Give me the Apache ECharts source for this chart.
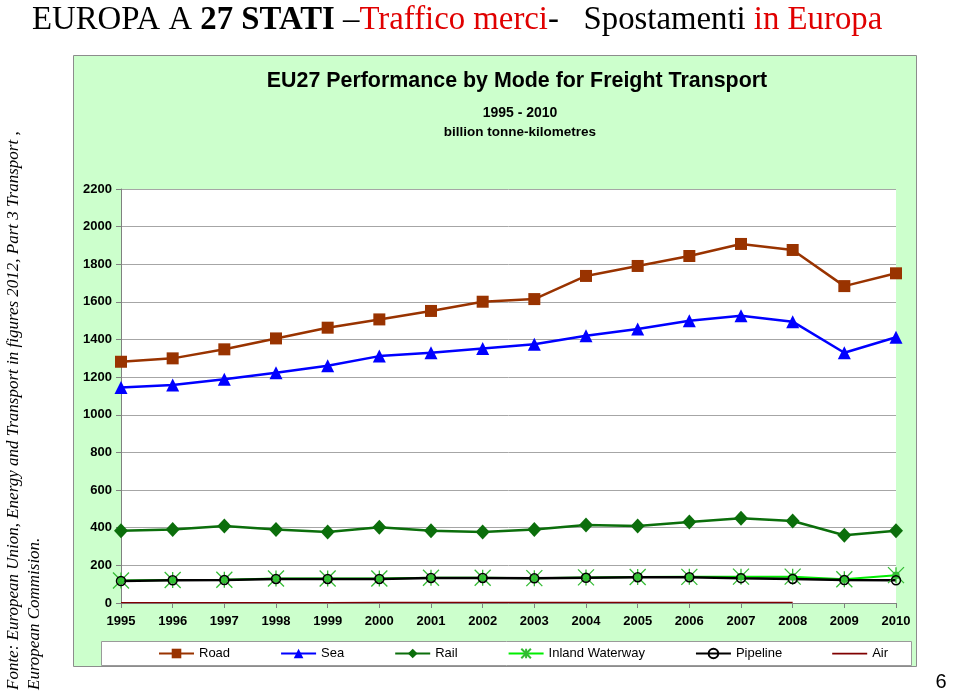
<!DOCTYPE html>
<html>
<head>
<meta charset="utf-8">
<script src="https://cdn.jsdelivr.net/npm/echarts@6/dist/echarts.min.js"></script>
<style>html,body{margin:0;padding:0;background:#fff;}#c{width:960px;height:697px;}</style>
</head>
<body>
<div id="c"></div>
<script>
const years = ['1995','1996','1997','1998','1999','2000','2001','2002','2003','2004','2005','2006','2007','2008','2009','2010'];
const road = [1282,1300,1348,1406,1463,1507,1552,1601,1615,1738,1791,1844,1908,1876,1684,1752];
const sea = [1145,1158,1189,1224,1261,1312,1330,1353,1375,1420,1456,1500,1527,1495,1330,1412];
const rail = [384,391,409,391,377,402,384,377,391,414,409,430,450,436,360,384];
const waterway = [120,122,124,130,130,130,134,134,132,136,138,139,140,140,126,148];
const pipeline = [117,121,122,128,128,128,133,133,131,134,137,137,132,128,122,121];
const air = [2,2,2,2,2,3,3,3,3,3,3,3,3,3,null,null];
const yTicks = {min:0, max:2200, interval:200};

const chart = echarts.init(document.getElementById('c'), null, {renderer:'canvas'});
const lbl = {fontFamily:'Arial, Liberation Sans', fontSize:13, fontWeight:'bold', color:'#000'};
chart.setOption({
  backgroundColor:'#fff',
  animation:false,
  title:[
    {text:'{n|EUROPA A }{b|27 STATI}{n| –}{r|Traffico merci}{n|-   Spostamenti }{r|in Europa}',
     left:27, top:-1,
     textStyle:{fontWeight:'normal', rich:{
       n:{fontFamily:'Liberation Serif', fontSize:32.8, fontWeight:'normal', color:'#000'},
       b:{fontFamily:'Liberation Serif', fontSize:32.8, fontWeight:'bold', color:'#000'},
       r:{fontFamily:'Liberation Serif', fontSize:32.8, fontWeight:'normal', color:'#e00000'}
     }}},
    {text:'EU27 Performance by Mode for Freight Transport', left:512, textAlign:'center', top:66,
     textStyle:{fontFamily:'Arial, Liberation Sans', fontSize:21.4, fontWeight:'bold', color:'#000'}},
    {text:'1995 - 2010', left:515, textAlign:'center', top:101,
     textStyle:{fontFamily:'Arial, Liberation Sans', fontSize:14, fontWeight:'bold', color:'#000'}},
    {text:'billion tonne-kilometres', left:515, textAlign:'center', top:120,
     textStyle:{fontFamily:'Arial, Liberation Sans', fontSize:13.5, fontWeight:'bold', color:'#000'}}
  ],
  graphic:[
    {type:'rect', z:-10, shape:{x:73.5,y:55.5,width:843,height:611}, style:{fill:'#ccffcc', stroke:'#8c8c8c', lineWidth:1}},
    {type:'rect', z:-5, shape:{x:101.5,y:641.5,width:810,height:24}, style:{fill:'#fff', stroke:'#9a9a9a', lineWidth:1}},
    {type:'text', x:14, y:690, rotation:Math.PI/2,
     style:{text:'Fonte: European Union, Energy and Transport in figures 2012, Part 3 Transport ,', fontFamily:'Liberation Serif', fontStyle:'italic', fontSize:17, fill:'#000', textAlign:'left', textVerticalAlign:'middle'}},
    {type:'text', x:35, y:690, rotation:Math.PI/2,
     style:{text:'European Commision.', fontFamily:'Liberation Serif', fontStyle:'italic', fontSize:17, fill:'#000', textAlign:'left', textVerticalAlign:'middle'}},
    {type:'text', x:941, y:682, style:{text:'6', fontFamily:'Arial, Liberation Sans', fontSize:20, fill:'#000', textAlign:'center', textVerticalAlign:'middle'}}
  ],
  legend:{
    left:158, top:647, padding:0, itemWidth:35, itemHeight:12, itemGap:50,
    textStyle:{fontFamily:'Arial, Liberation Sans', fontSize:13, color:'#000'},
    data:['Road','Sea','Rail','Inland Waterway','Pipeline',
      {name:'Air', icon:'path://M0,0L100,0L100,5L0,5Z', itemStyle:{color:'#800000'}, lineStyle:{color:'#800000', width:1.5}}]
  },
  grid:{left:121, right:64, top:189, bottom:94, show:true, backgroundColor:'#fff', borderWidth:0},
  xAxis:{type:'category', data:years, boundaryGap:false,
    axisLine:{lineStyle:{color:'#808080', width:1}},
    axisTick:{show:true, length:5, alignWithLabel:true, lineStyle:{color:'#808080'}},
    axisLabel:Object.assign({margin:12}, lbl), splitLine:{show:false}},
  yAxis:{type:'value', min:yTicks.min, max:yTicks.max, interval:yTicks.interval,
    axisLine:{show:true, lineStyle:{color:'#808080', width:1}},
    axisTick:{show:true, length:5, lineStyle:{color:'#808080'}},
    axisLabel:Object.assign({margin:9, formatter:function(v){return String(v);}}, lbl),
    splitLine:{lineStyle:{color:'#a6a6a6', width:1}}},
  series:[
    {name:'Road', type:'line', data:road, symbol:'rect', symbolSize:12,
     lineStyle:{color:'#993300', width:2.5}, itemStyle:{color:'#993300'}},
    {name:'Sea', type:'line', data:sea, symbol:'triangle', symbolSize:13,
     lineStyle:{color:'#0000ff', width:2.5}, itemStyle:{color:'#0000ff'}},
    {name:'Rail', type:'line', data:rail, symbol:'diamond', symbolSize:[14,15],
     lineStyle:{color:'#0b6e0b', width:2.5}, itemStyle:{color:'#0b6e0b'}},
    {name:'Inland Waterway', type:'line', data:waterway,
     symbol:'path://M0,0L16,16M16,0L0,16M8,0L8,16M5,8A3,3,0,1,0,11,8A3,3,0,1,0,5,8Z', symbolSize:16,
     lineStyle:{color:'#00ee00', width:2}, itemStyle:{color:'#33dd33', borderColor:'#33bb33', borderWidth:1.3}},
    {name:'Pipeline', type:'line', data:pipeline, symbol:'circle', symbolSize:9,
     lineStyle:{color:'#000', width:2.5}, itemStyle:{color:'rgba(0,0,0,0)', borderColor:'#000', borderWidth:1.5}},
    {name:'Air', type:'line', data:air, symbol:'none',
     lineStyle:{color:'#800000', width:1.2}, itemStyle:{color:'#800000'}}
  ]
});
</script>
</body>
</html>
